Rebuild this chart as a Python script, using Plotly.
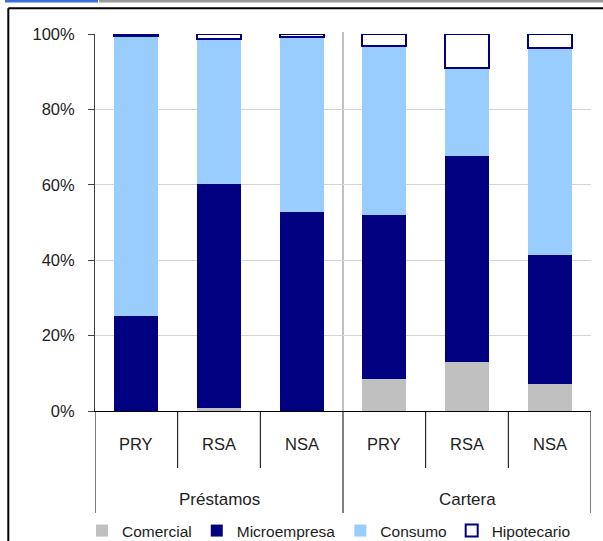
import plotly.graph_objects as go

# Portfolio composition by credit type (%)
groups = ["Préstamos", "Cartera"]
regions = ["PRY", "RSA", "NSA"]
x_labels = regions + regions

comercial = [0.0, 0.9, 0.0, 8.4, 12.9, 7.2]
microempresa = [25.2, 59.4, 52.9, 43.5, 54.8, 34.2]
consumo = [74.3, 38.4, 46.3, 45.0, 23.4, 54.9]
hipotecario = [0.5, 1.3, 0.8, 3.1, 8.9, 3.7]

y_ticks = [0, 20, 40, 60, 80, 100]
y_tick_labels = ["0%", "20%", "40%", "60%", "80%", "100%"]

FONT = "Liberation Sans, Arial, sans-serif"
TEXT = "#222222"
NAVY = "#000080"

xpos = list(range(len(x_labels)))

# page geometry (pixels) used to place decorations in paper coordinates
W, H = 603, 541
ML, MR, MT, MB = 95, 12, 34, 130
PW, PH = W - ML - MR, H - MT - MB


def px_x(px):
    return (px - ML) / PW


def px_y(py):
    return (H - MB - py) / PH


fig = go.Figure()
series = [
    ("Comercial", comercial, "#C0C0C0", None),
    ("Microempresa", microempresa, NAVY, None),
    ("Consumo", consumo, "#99CCFF", None),
    ("Hipotecario", hipotecario, "#FFFFFF", NAVY),
]
for name, vals, color, edge in series:
    fig.add_trace(go.Bar(
        x=xpos, y=vals, name=name, width=0.53,
        marker=dict(color=color,
                    line=dict(color=edge or color, width=2 if edge else 0)),
        hoverinfo="name+y",
    ))

shapes = []
# category boundaries below the axis
for b in [0.5, 1.5, 3.5, 4.5]:
    shapes.append(dict(type="line", xref="x", yref="paper", x0=b, x1=b,
                       y0=0, y1=px_y(468), line=dict(color="#000000", width=1)))
# group dividers below the axis
for b in [-0.5, 2.5, 5.5]:
    shapes.append(dict(type="line", xref="x", yref="paper", x0=b, x1=b,
                       y0=0, y1=px_y(513), line=dict(color="#000000", width=1)))
# separator between the two groups inside the plot
shapes.append(dict(type="line", xref="x", yref="paper", x0=2.5, x1=2.5,
                   y0=0, y1=px_y(32), line=dict(color="#C0C0C0", width=2),
                   layer="below"))
# chart frame
shapes.append(dict(type="line", xref="paper", yref="paper",
                   x0=px_x(8.3), x1=px_x(8.3), y0=px_y(560), y1=px_y(8.3),
                   line=dict(color="#000000", width=2)))
shapes.append(dict(type="line", xref="paper", yref="paper",
                   x0=px_x(8.3), x1=px_x(620), y0=px_y(8.3), y1=px_y(8.3),
                   line=dict(color="#000000", width=2)))
# header strip
shapes.append(dict(type="rect", xref="paper", yref="paper",
                   x0=px_x(5), x1=px_x(98), y0=px_y(2.5), y1=px_y(0),
                   line=dict(width=0), fillcolor="#3A6FD8"))
shapes.append(dict(type="rect", xref="paper", yref="paper",
                   x0=px_x(99), x1=px_x(620), y0=px_y(2.5), y1=px_y(0),
                   line=dict(width=0), fillcolor="#9A9A9A"))

annotations = []
for i, lab in enumerate(x_labels):
    annotations.append(dict(x=i, y=px_y(443.5), xref="x", yref="paper",
                            text=lab, showarrow=False, yanchor="middle",
                            font=dict(family=FONT, size=16.5, color=TEXT)))
for gi, g in enumerate(groups):
    annotations.append(dict(x=gi * 3 + 1, y=px_y(499), xref="x", yref="paper",
                            text=g, showarrow=False, yanchor="middle",
                            font=dict(family=FONT, size=17, color=TEXT)))

fig.update_layout(
    barmode="stack",
    width=W, height=H,
    margin=dict(l=ML, r=MR, t=MT, b=MB, autoexpand=False),
    paper_bgcolor="#FFFFFF",
    plot_bgcolor="#FFFFFF",
    font=dict(family=FONT, color=TEXT),
    shapes=shapes,
    annotations=annotations,
    showlegend=True,
    legend=dict(orientation="h", x=px_x(82), xanchor="left",
                y=px_y(531), yanchor="middle",
                font=dict(family=FONT, size=15.5, color=TEXT),
                bgcolor="rgba(0,0,0,0)", traceorder="normal",
                itemclick=False),
    xaxis=dict(range=[-0.5, 5.5], showticklabels=False, showgrid=False,
               zeroline=False, showline=True, linecolor="#000000",
               linewidth=1, ticks="", fixedrange=True),
    yaxis=dict(range=[0, 100], tickmode="array", tickvals=y_ticks,
               ticktext=y_tick_labels,
               showgrid=True, gridcolor="#D4D4D4", gridwidth=1,
               zeroline=False, showline=True, linecolor="#404040",
               linewidth=1, ticks="outside", ticklen=6, tickcolor="#404040",
               tickfont=dict(family=FONT, size=16.5, color=TEXT),
               ticklabelstandoff=10, fixedrange=True),
)

fig.write_html("out.html")
